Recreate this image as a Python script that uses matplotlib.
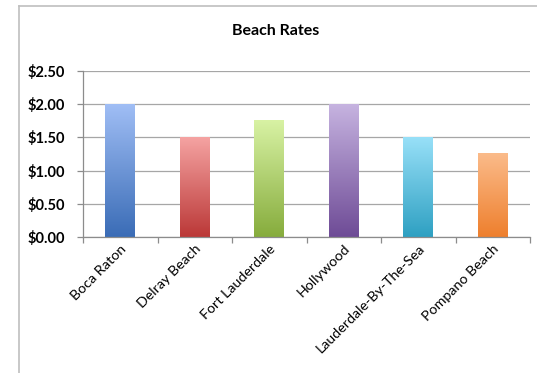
import matplotlib
matplotlib.use("Agg")
import matplotlib.pyplot as plt
import numpy as np
from matplotlib.colors import LinearSegmentedColormap
from matplotlib.lines import Line2D

categories = ["Boca Raton", "Delray Beach", "Fort Lauderdale", "Hollywood",
              "Lauderdale-By-The-Sea", "Pompano Beach"]
rates = [2.00, 1.50, 1.75, 2.00, 1.50, 1.25]
top_colors = ["#A0BEF5", "#F5A3A2", "#D8F2A4", "#C6B3E0", "#98E0F8", "#FBBB8A"]
bottom_colors = ["#3A6CB6", "#BB3837", "#86AC3C", "#6E4B96", "#2EA0C2", "#EE7F2D"]
yticks = [0.0, 0.5, 1.0, 1.5, 2.0, 2.5]
ytick_labels = ["$0.00", "$0.50", "$1.00", "$1.50", "$2.00", "$2.50"]

plt.rcParams['font.family'] = ['Lato', 'DejaVu Sans']

W, H = 537, 373
fig = plt.figure(figsize=(W / 100, H / 100), dpi=100)
ax = fig.add_axes([83 / W, 1 - 237 / H, (530 - 83) / W, (237 - 71) / H])

x = np.arange(len(categories))
bars = ax.bar(x, rates, width=0.4, color="none", edgecolor="none", zorder=2)
grad = np.linspace(1, 0, 256).reshape(-1, 1)
for b, ct, cb in zip(bars, top_colors, bottom_colors):
    cmap = LinearSegmentedColormap.from_list("g", [cb, ct])
    x0, y0, w, h = b.get_x(), b.get_y(), b.get_width(), b.get_height()
    ax.imshow(grad, cmap=cmap, aspect="auto", extent=(x0, x0 + w, y0, y0 + h),
              zorder=2, interpolation="bilinear", vmin=0, vmax=1)

ax.set_xlim(-0.5, len(categories) - 0.5)
ax.set_ylim(0, 2.5)
ax.set_yticks(yticks)
ax.set_yticklabels(ytick_labels, fontsize=10.5, fontweight="bold")
ax.yaxis.grid(True, color="#A6A6A6", linewidth=0.9, zorder=0)
ax.set_axisbelow(True)

ax.set_xticks(x)
ax.set_xticklabels(categories, rotation=45, ha="right", rotation_mode="anchor",
                   fontsize=10.3)
ax.tick_params(axis="x", length=0, pad=4)
ax.set_xticks(np.arange(-0.5, len(categories)), minor=True)
ax.tick_params(axis="x", which="minor", length=4, color="#8C8C8C", width=0.9)
ax.tick_params(axis="y", length=4, color="#8C8C8C", width=0.9, pad=9)

for s in ["top", "right"]:
    ax.spines[s].set_visible(False)
for s in ["left", "bottom"]:
    ax.spines[s].set_color("#8C8C8C")
    ax.spines[s].set_linewidth(0.9)

fig.text(276 / W, 1 - 31 / H, "Beach Rates", ha="center", va="center",
         fontsize=11.5, fontweight="bold")

# chart frame (left and top edges visible)
fig.add_artist(Line2D([19 / W, 19 / W], [0, 1 - 6 / H], transform=fig.transFigure,
                      color="#BFBFBF", linewidth=1.2))
fig.add_artist(Line2D([19 / W, 1], [1 - 6 / H, 1 - 6 / H], transform=fig.transFigure,
                      color="#BFBFBF", linewidth=1.2))

fig.savefig("out.png", dpi=100)
